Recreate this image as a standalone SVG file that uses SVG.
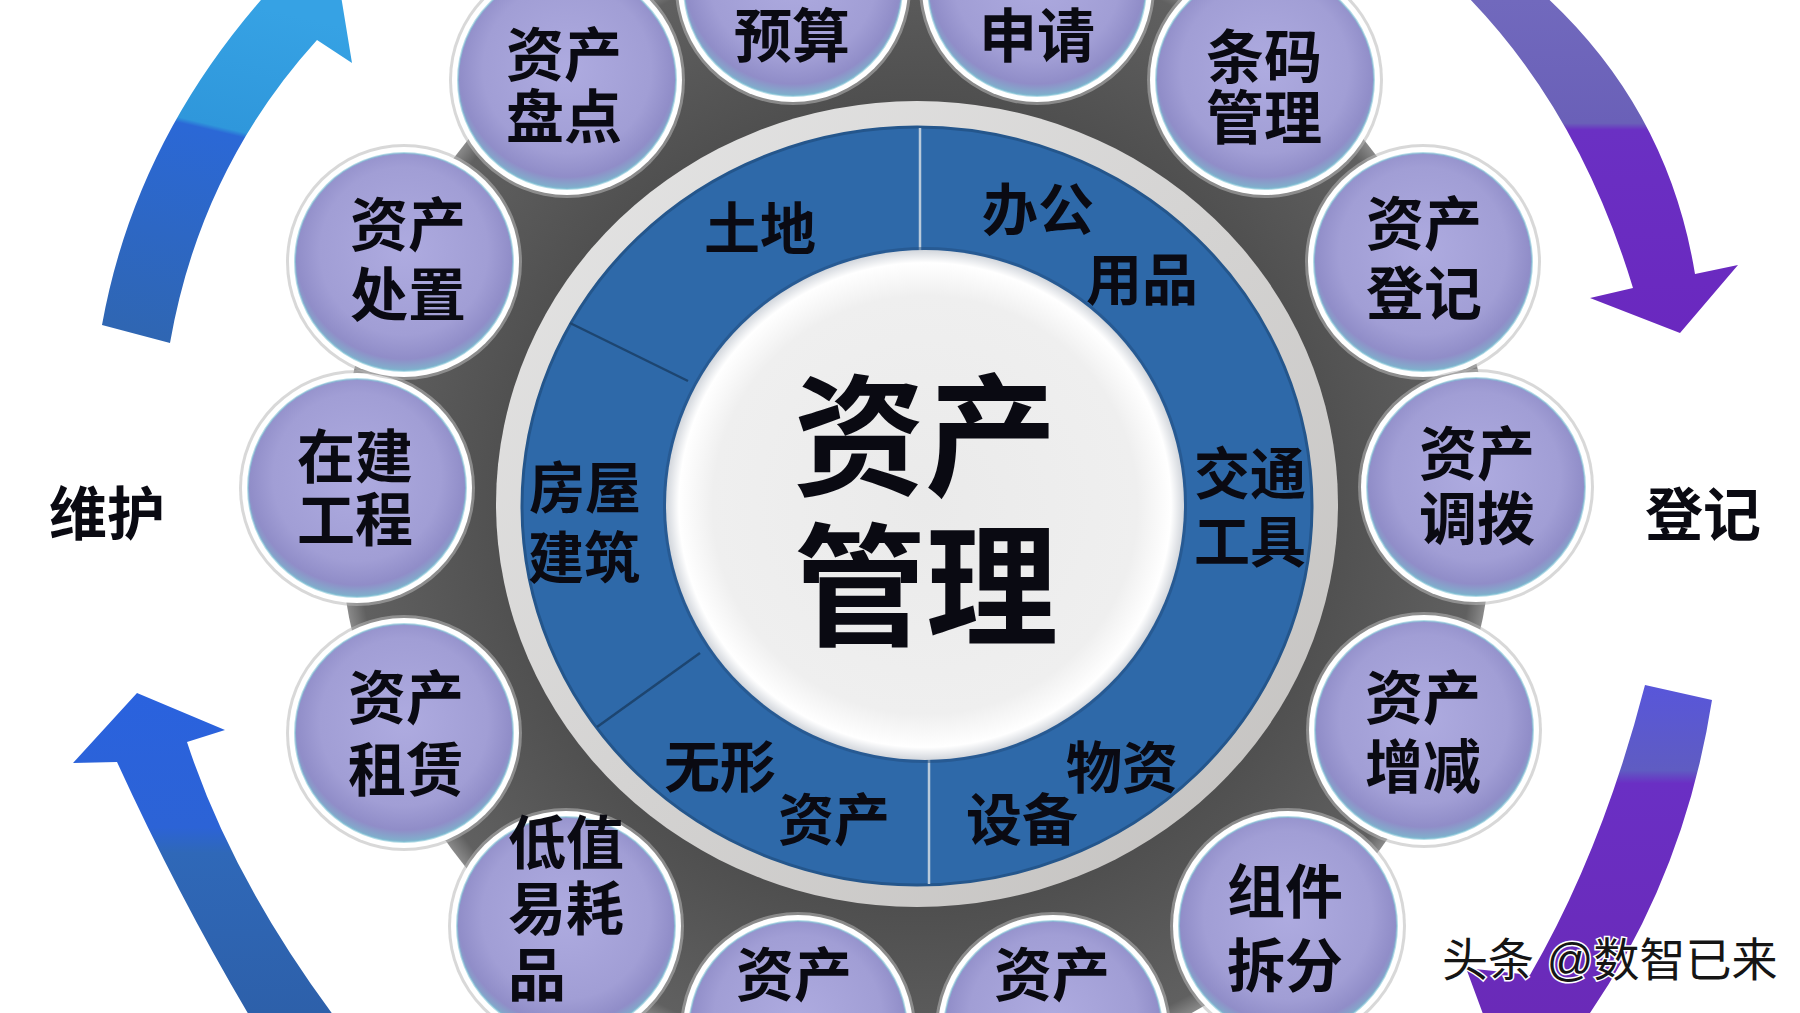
<svg xmlns="http://www.w3.org/2000/svg" xmlns:xlink="http://www.w3.org/1999/xlink" width="1800" height="1013" viewBox="0 0 1800 1013">
<defs>
<style>
.cjk{font-family:"Liberation Sans","Noto Sans CJK SC",sans-serif;font-weight:700;fill:#0a0a12;text-anchor:middle}
.bt{font-size:58px}
.seg{font-size:56px}
.side{font-size:58px}
.ctr{font-size:132px}
.st{text-anchor:start}
.wm{font-family:"Liberation Sans","Noto Sans CJK SC",sans-serif;font-weight:400;font-size:46px;fill:#151515;stroke:#ffffff;stroke-width:3;paint-order:stroke}
.div-dark{stroke:#1d4570;stroke-width:2.5}
.div-light{stroke:#b9cadb;stroke-width:2.5}
</style>
<radialGradient id="bubFill" cx="0.5" cy="0.45" r="0.55">
<stop offset="0" stop-color="#aeabe0"/>
<stop offset="0.7" stop-color="#a19ed5"/>
<stop offset="0.9" stop-color="#908dc8"/>
<stop offset="1" stop-color="#7fb2cc"/>
</radialGradient>
<radialGradient id="whiteFill" cx="0.5" cy="0.5" r="0.5">
<stop offset="0" stop-color="#eaeaea"/>
<stop offset="0.82" stop-color="#efefef"/>
<stop offset="0.95" stop-color="#ffffff"/>
<stop offset="1" stop-color="#d2d6dc"/>
</radialGradient>
<linearGradient id="lightRing" x1="0" y1="0" x2="1" y2="1">
<stop offset="0" stop-color="#e6e6e6"/>
<stop offset="1" stop-color="#c2c0be"/>
</linearGradient>
<radialGradient id="darkDisc" cx="0.5" cy="0.5" r="0.5">
<stop offset="0.7" stop-color="#4f4f4f"/>
<stop offset="0.97" stop-color="#606060"/>
<stop offset="1" stop-color="#8a8a8a"/>
</radialGradient>
<linearGradient id="arrTL" gradientUnits="userSpaceOnUse" x1="230" y1="0" x2="150" y2="340">
<stop offset="0" stop-color="#36a2e4"/>
<stop offset="0.36" stop-color="#2f97db"/>
<stop offset="0.375" stop-color="#2b68d6"/>
<stop offset="1" stop-color="#2f66b2"/>
</linearGradient>
<linearGradient id="arrBL" gradientUnits="userSpaceOnUse" x1="0" y1="693" x2="0" y2="1013">
<stop offset="0" stop-color="#2a62de"/>
<stop offset="0.42" stop-color="#2c63d6"/>
<stop offset="0.5" stop-color="#2f68b8"/>
<stop offset="1" stop-color="#2d60aa"/>
</linearGradient>
<linearGradient id="arrTR" gradientUnits="userSpaceOnUse" x1="0" y1="0" x2="0" y2="333">
<stop offset="0" stop-color="#7169bd"/>
<stop offset="0.37" stop-color="#6a60b8"/>
<stop offset="0.39" stop-color="#6a30c3"/>
<stop offset="1" stop-color="#6a28bf"/>
</linearGradient>
<linearGradient id="arrBR" gradientUnits="userSpaceOnUse" x1="0" y1="685" x2="0" y2="1013">
<stop offset="0" stop-color="#5856da"/>
<stop offset="0.26" stop-color="#5f5cc2"/>
<stop offset="0.3" stop-color="#6a2fc4"/>
<stop offset="1" stop-color="#6a2ab8"/>
</linearGradient>
<g id="bubble">
<circle r="118" fill="#b8b8b8" opacity="0.55"/>
<circle r="115" fill="#ffffff"/>
<circle r="109" fill="url(#bubFill)"/>
<circle r="109" fill="none" stroke="#82c3d6" stroke-width="2" opacity="0.6"/>
</g>
</defs>

<rect x="0" y="0" width="1800" height="1013" fill="#ffffff"/>

<g id="connectors">
<path id="arrow-top-left" d="M 102,325 L 170,343 Q 200.5,168.5 317,40 L 352,63 L 333,-53 L 215,-45 L 268,-8 Q 135,141.5 102,325 Z" fill="url(#arrTL)"/>
<path id="arrow-bottom-left" d="M 137,693 L 225,730 L 187,742 Q 236.5,894 360,1050 L 270,1050 Q 186.5,914 117,762 L 73,763 Z" fill="url(#arrBL)"/>
<path id="arrow-top-right" d="M 1440,-30 Q 1573.5,91 1633,288 L 1590,298 L 1680,333 L 1738,265 L 1695,274 Q 1665,90 1515,-30 Z" fill="url(#arrTR)"/>
<path id="arrow-bottom-right" d="M 1645,685 L 1712,700 Q 1685,873.5 1590,1013 L 1600,1060 L 1500,1060 L 1466,968 L 1530,975 Q 1602.5,850 1645,685 Z" fill="url(#arrBR)"/>
</g>

<g id="hub">
<circle cx="916" cy="505" r="578" fill="url(#darkDisc)"/>
<ellipse cx="917" cy="504" rx="421" ry="403" fill="url(#lightRing)"/>
<ellipse cx="917" cy="506" rx="395" ry="379" fill="#2e69a9" stroke="#24568c" stroke-width="3"/>
<g id="dividers">
<line class="div-light" x1="920" y1="128" x2="920" y2="252"/>
<line class="div-light" x1="929" y1="752" x2="929" y2="884"/>
<line class="div-dark" x1="570" y1="323" x2="688" y2="381"/>
<line class="div-dark" x1="597" y1="727" x2="700" y2="653"/>
</g>
<ellipse cx="925" cy="505" rx="262" ry="258" fill="#1f4c7e" opacity="0.5"/>
<ellipse cx="925" cy="505" rx="259" ry="255" fill="url(#whiteFill)"/>
</g>

<g id="center-node">
<text class="cjk ctr" x="925" y="485">资产</text>
<text class="cjk ctr" x="926" y="635">管理</text>
</g>

<g id="segments">
<g id="seg-land"><text class="cjk seg" x="760" y="249">土地</text></g>
<g id="seg-office"><text class="cjk seg" x="1038" y="230">办公</text><text class="cjk seg" x="1142" y="300">用品</text></g>
<g id="seg-building"><text class="cjk seg" x="585" y="508">房屋</text><text class="cjk seg" x="584" y="578">建筑</text></g>
<g id="seg-transport"><text class="cjk seg" x="1250" y="494">交通</text><text class="cjk seg" x="1250" y="562">工具</text></g>
<g id="seg-intangible"><text class="cjk seg" x="720" y="787">无形</text><text class="cjk seg" x="834" y="840">资产</text></g>
<g id="seg-equipment"><text class="cjk seg" x="1122" y="788">物资</text><text class="cjk seg" x="1022" y="840">设备</text></g>
</g>

<g id="node-budget" transform="translate(793,-13)"><use href="#bubble"/><text class="cjk bt" x="-1" y="70">预算</text></g>
<g id="node-apply" transform="translate(1037,-13)"><use href="#bubble"/><text class="cjk bt" x="0" y="70">申请</text></g>
<g id="node-barcode" transform="translate(1265,80)"><use href="#bubble"/><text class="cjk bt" x="-1" y="-2">条码</text><text class="cjk bt" x="-1" y="59">管理</text></g>
<g id="node-register" transform="translate(1423,262)"><use href="#bubble"/><text class="cjk bt" x="1" y="-17">资产</text><text class="cjk bt" x="1" y="53">登记</text></g>
<g id="node-transfer" transform="translate(1476,487)"><use href="#bubble"/><text class="cjk bt" x="1" y="-12">资产</text><text class="cjk bt" x="1" y="53">调拨</text></g>
<g id="node-change" transform="translate(1424,730)"><use href="#bubble"/><text class="cjk bt" x="-1" y="-11">资产</text><text class="cjk bt" x="-1" y="58">增减</text></g>
<g id="node-split" transform="translate(1288,926)"><use href="#bubble"/><text class="cjk bt" x="-3" y="-13">组件</text><text class="cjk bt" x="-3" y="61">拆分</text></g>
<g id="node-asset-br" transform="translate(1053,1030)"><use href="#bubble"/><text class="cjk bt" x="-1" y="-34">资产</text></g>
<g id="node-asset-bl" transform="translate(798,1030)"><use href="#bubble"/><text class="cjk bt" x="-4" y="-34">资产</text></g>
<g id="node-lowvalue" transform="translate(566,926)"><use href="#bubble"/><text class="cjk bt st" x="-58" y="-62">低值</text><text class="cjk bt st" x="-58" y="4">易耗</text><text class="cjk bt st" x="-58" y="70">品</text></g>
<g id="node-lease" transform="translate(404,733)"><use href="#bubble"/><text class="cjk bt" x="2" y="-14">资产</text><text class="cjk bt" x="2" y="58">租赁</text></g>
<g id="node-construction" transform="translate(357,488)"><use href="#bubble"/><text class="cjk bt" x="-2" y="-10">在建</text><text class="cjk bt" x="-2" y="53">工程</text></g>
<g id="node-disposal" transform="translate(404,262)"><use href="#bubble"/><text class="cjk bt" x="4" y="-16">资产</text><text class="cjk bt" x="4" y="54">处置</text></g>
<g id="node-inventory" transform="translate(567,80)"><use href="#bubble"/><text class="cjk bt" x="-3" y="-4">资产</text><text class="cjk bt" x="-3" y="58">盘点</text></g>

<g id="label-maintain"><text class="cjk side" x="107" y="535">维护</text></g>
<g id="label-register"><text class="cjk side" x="1703" y="536">登记</text></g>
<g id="watermark"><text class="wm" x="1442" y="976">头条 @数智已来</text></g>
</svg>
